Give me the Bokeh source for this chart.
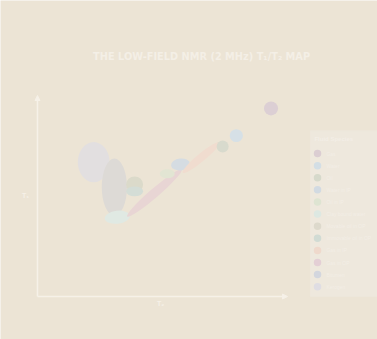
from bokeh.plotting import figure
from bokeh.models import Range1d, Label, Arrow, NormalHead, BoxAnnotation, ColumnDataSource
from bokeh.core.properties import value
from bokeh.embed import file_html
from bokeh.resources import INLINE

BG = "#ece4d5"

# Fluid regions on the T1/T2 map (log10 of T2 and T1, ms)
region_names = ["Kerogen", "Bitumen", "Movable oil in OP", "Immovable oil in OP",
                "Clay bound water", "Gas in OP", "Oil in IP", "Water in IP",
                "Gas in IP", "Oil", "Water", "Gas"]
region_t2 = [-0.64, -0.14, 0.35, 0.35, -0.07, 0.83, 1.14, 1.46, 1.96, 2.48, 2.81, 3.65]
region_t1 = [2.05, 1.30, 1.38, 1.17, 0.39, 1.12, 1.70, 1.98, 2.19, 2.52, 2.85, 3.67]
region_w = [0.77, 0.61, 0.41, 0.41, 0.61, 1.74, 0.36, 0.46, 1.16, 0.29, 0.32, 0.34]
region_h = [1.21, 1.72, 0.48, 0.30, 0.39, 0.27, 0.27, 0.36, 0.24, 0.36, 0.39, 0.42]
region_angle = [0.0, 0.0, 0.0, 0.0, 0.12, 0.71, 0.0, 0.1, 0.69, 0.0, 0.0, 0.0]
region_color = ["#e2dfe0", "#dddad6", "#dbdaca", "#d4ddd6", "#e0e9e3", "#e8d5d4",
                "#e2e5d3", "#d5dce2", "#f0dccf", "#d8dacd", "#d6e0e6", "#dccfd4"]

legend_labels = ["Gas", "Water", "Oil", "Water in IP", "Oil in IP", "Clay bound water",
                 "Movable oil in OP", "Immovable oil in OP", "Gas in IP", "Gas in OP",
                 "Bitumen", "Kerogen"]
legend_colors = ["#dbcdd2", "#d3dee5", "#d6d9cb", "#d2dae2", "#dee4d2", "#dde8e2",
                 "#ddd9cc", "#d1dbd4", "#efd9cc", "#e4cfd5", "#d3d6de", "#dfdde3"]

# axis extents of the map (log10 ms)
T2_MIN, T2_MAX = -2, 4
T1_MIN, T1_MAX = -2, 4

p = figure(width=377, height=339, output_backend="svg", toolbar_location=None,
           x_range=Range1d(-2.895, 6.226), y_range=Range1d(-3.296, 6.924),
           min_border=0)
p.xaxis.visible = False
p.yaxis.visible = False
p.grid.visible = False
p.outline_line_color = None
p.background_fill_color = BG
p.border_fill_color = BG

for i in range(len(region_names)):
    p.ellipse(x=[region_t2[i]], y=[region_t1[i]], width=[region_w[i]], height=[region_h[i]],
              angle=[region_angle[i]], fill_color=region_color[i], line_color=None)

AX = "#f6f1e8"
p.add_layout(Arrow(x_start=T2_MIN, y_start=T1_MIN, x_end=T2_MIN, y_end=T1_MAX + 0.06,
                   line_color=AX, line_width=1.5,
                   end=NormalHead(size=5, fill_color=AX, line_color=AX)))
p.add_layout(Arrow(x_start=T2_MIN, y_start=T1_MIN, x_end=T2_MAX + 0.05, y_end=T1_MIN,
                   line_color=AX, line_width=1.5,
                   end=NormalHead(size=5, fill_color=AX, line_color=AX)))

p.add_layout(Label(x=-2.29, y=1.05, text="T₁", text_font_size="7px", text_font_style="bold",
                   text_color=AX, text_align="center", text_baseline="middle"))
p.add_layout(Label(x=0.98, y=-2.21, text="T₂", text_font_size="7px", text_font_style="bold",
                   text_color=AX, text_align="center", text_baseline="middle"))

p.add_layout(Label(x=1.97, y=5.24, text="THE LOW-FIELD NMR (2 MHz) T₁/T₂ MAP",
                   text_font="DejaVu Sans", text_font_size="9.8px", text_font_style="bold",
                   text_color="#f4efe6", text_align="center", text_baseline="middle"))

# ---- hand-built legend panel (layout in data units of the map) ----
LEG_LEFT, LEG_RIGHT, LEG_TOP, LEG_BOTTOM = 4.60, 6.40, 3.00, -2.00
ROW0, ROW_STEP = 2.31, 0.365
MARK_X, TEXT_X = 4.775, 4.99
p.add_layout(BoxAnnotation(left=LEG_LEFT, right=LEG_RIGHT, top=LEG_TOP, bottom=LEG_BOTTOM,
                           fill_color="#eee8dd", fill_alpha=1.0, level="underlay",
                           line_color="#f0eae1", line_width=1))
rows = [ROW0 - ROW_STEP * i for i in range(len(legend_labels))]
src = ColumnDataSource(dict(x=[MARK_X] * len(rows), tx=[TEXT_X] * len(rows), y=rows,
                            label=legend_labels, color=legend_colors))
p.scatter(x="x", y="y", source=src, size=7.5, fill_color="color", line_color=None)
p.text(x="tx", y="y", text="label", source=src, text_font=value("Liberation Sans"),
       text_font_size="5px", text_color="#f3eee6", text_baseline="middle")
p.add_layout(Label(x=4.70, y=2.76, text="Fluid Species", text_font="Liberation Sans",
                   text_font_size="6px", text_font_style="bold", text_color="#f3eee6",
                   text_baseline="middle"))

open("out.html", "w").write(file_html(p, INLINE))
